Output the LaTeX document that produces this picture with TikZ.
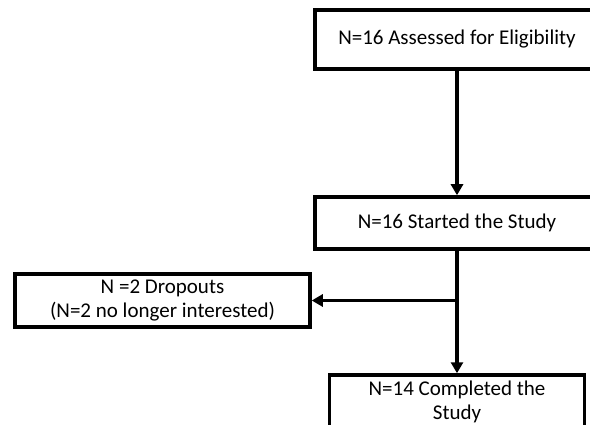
\documentclass[tikz,border=0pt]{standalone}
\usepackage{fontspec}
\setmainfont{Carlito}
\usetikzlibrary{arrows.meta}
\begin{document}
\begin{tikzpicture}[x=1pt, y=-1pt,
            box/.style={draw, line width=3.5pt, align=center, inner sep=0pt,
                        font=\fontsize{21}{24}\selectfont},
            arr/.style={line width=3.5pt, -{Triangle[length=11pt,width=12pt]}}]
            \useasboundingbox (0,0) rectangle (590,425);
            \clip (0,0) rectangle (590,425);

            \node[box, minimum width=284pt, minimum height=59pt] (a) at (457,39.5) {N=16 Assessed for Eligibility};
            \node[box, minimum width=284pt, minimum height=52pt] (s) at (457,223) {N=16 Started the Study};
            \node[box, minimum width=295pt, minimum height=53pt] (d) at (162.5,300.5) {N =2 Dropouts\\(N=2 no longer interested)};
            \node[box, minimum width=255pt, minimum height=54pt] (c) at (457,402) {N=14 Completed the\\Study};

            \coordinate (j) at (s.south |- d.east);
            \draw[arr] (a) -- (s);
            \draw[arr] (s) -- (c);
            \draw[arr] (j) -- (d.east);
        \end{tikzpicture}
\end{document}
